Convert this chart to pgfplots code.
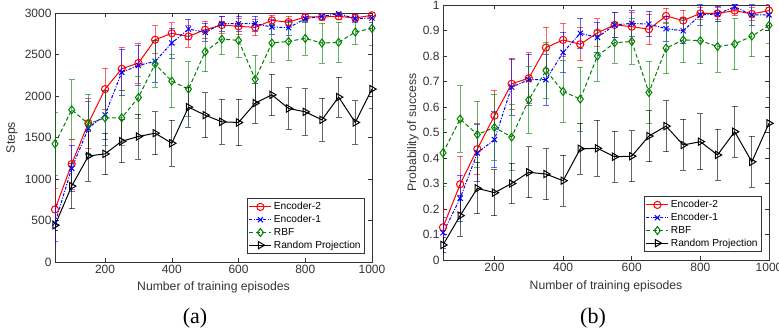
\documentclass[border=0pt]{standalone}
\usepackage{pgfplots}
\pgfplotsset{compat=1.18}
\usepackage{pgfplotstable}
\usepackage{fontspec}
\setmainfont{Liberation Sans}
\newfontfamily\capfont{Liberation Serif}

\definecolor{axgray}{gray}{0.2}
\definecolor{dgreen}{rgb}{0,0.5,0}

\pgfplotstableread{
x    e2   e2e  e1   e1e  r    re   p    pe
50   633  250  470  220  1423 380  443  60
100  1180 300  1128 280  1834 360  914  270
150  1673 300  1612 320  1665 360  1277 300
200  2083 250  1773 300  1737 330  1303 250
250  2328 260  2284 280  1737 330  1455 260
300  2397 240  2368 240  1982 250  1512 270
350  2678 170  2417 250  2385 280  1552 260
400  2755 130  2638 180  2179 320  1431 280
450  2718 130  2807 120  2083 330  1866 240
500  2799 100  2767 110  2533 240  1769 270
550  2855 100  2871 90   2686 190  1689 270
600  2839 100  2871 90   2670 200  1681 280
650  2827 100  2871 90   2203 290  1914 240
700  2911 60   2831 90   2638 230  2014 250
750  2891 70   2823 90   2658 230  1850 250
800  2952 40   2932 50   2694 200  1809 280
850  2952 40   2960 40   2638 240  1713 260
900  2960 40   2990 20   2646 240  1987 240
950  2940 40   2932 50   2771 150  1681 260
1000 2972 30   2940 50   2815 200  2083 230
}\tabA

\pgfplotstableread{
x    e2    e2e   e1    e1e   r     re    p     pe
50   0.128 0.07  0.107 0.06  0.42  0.13  0.059 0.03
100  0.297 0.11  0.242 0.09  0.553 0.13  0.174 0.08
150  0.435 0.10  0.42  0.11  0.492 0.13  0.281 0.10
200  0.566 0.10  0.472 0.11  0.52  0.13  0.264 0.09
250  0.691 0.10  0.678 0.11  0.482 0.13  0.30  0.08
300  0.713 0.10  0.707 0.10  0.628 0.13  0.344 0.10
350  0.833 0.08  0.707 0.10  0.743 0.11  0.337 0.10
400  0.863 0.065 0.814 0.08  0.661 0.12  0.311 0.10
450  0.846 0.065 0.889 0.06  0.631 0.125 0.436 0.10
500  0.891 0.055 0.873 0.06  0.80  0.10  0.438 0.11
550  0.922 0.05  0.922 0.05  0.852 0.08  0.405 0.10
600  0.915 0.055 0.928 0.05  0.857 0.09  0.407 0.10
650  0.905 0.06  0.925 0.05  0.657 0.12  0.486 0.10
700  0.957 0.03  0.907 0.05  0.831 0.10  0.525 0.10
750  0.939 0.04  0.899 0.05  0.863 0.09  0.451 0.10
800  0.967 0.025 0.961 0.04  0.86  0.09  0.464 0.11
850  0.967 0.025 0.965 0.03  0.837 0.10  0.412 0.10
900  0.978 0.02  0.993 0.01  0.847 0.10  0.503 0.10
950  0.965 0.025 0.961 0.04  0.878 0.08  0.385 0.10
1000 0.978 0.02  0.961 0.04  0.92  0.07  0.536 0.10
}\tabB

\pgfplotsset{
  myaxis/.style={
    scale only axis,
    xmin=50, xmax=1000,
    xtick={200,400,600,800,1000},
    tick align=inside,
    tick pos=both,
    axis line style={axgray, line width=0.6pt},
    every tick/.style={axgray, line width=0.5pt},
    major tick length=4pt,
    tick label style={font=\fontsize{12}{13}\selectfont, text=axgray},
    label style={font=\fontsize{12.2}{13}\selectfont, text=axgray},
    /pgf/number format/assume math mode=true,
    /pgf/number format/1000 sep={},
    legend cell align=left,
    legend style={anchor=south east, draw=axgray, line width=0.7pt,
      font=\fontsize{10.2}{11}\selectfont, fill=white, row sep=0pt,
      inner sep=2pt},
    legend image code/.code={\draw[mark repeat=2,mark phase=2]
      plot coordinates {(0pt,0pt)(11pt,0pt)(22pt,0pt)};},
    error bars/y dir=both,
    error bars/y explicit,
  },
  s2/.style={red, line width=1pt, mark=o, mark size=3.6pt,
    mark options={solid, fill=red!25},
    error bars/error bar style={red, opacity=0.6, line width=0.8pt},
    error bars/error mark options={rotate=90, mark size=3pt, red, opacity=0.6, line width=0.8pt}},
  s1/.style={blue, line width=1pt, dash pattern=on 3pt off 1.5pt on 1pt off 1.5pt, mark=x, mark size=3.6pt,
    mark options={solid},
    error bars/error bar style={blue, opacity=0.6, line width=0.8pt, solid},
    error bars/error mark options={rotate=90, mark size=3pt, blue, opacity=0.6, line width=0.8pt, solid}},
  sr/.style={dgreen, line width=1pt, dash pattern=on 4pt off 2.5pt, mark=diamond, mark size=4pt,
    mark options={solid, fill=dgreen!25},
    error bars/error bar style={dgreen, opacity=0.6, line width=0.8pt, solid},
    error bars/error mark options={rotate=90, mark size=3pt, dgreen, opacity=0.6, line width=0.8pt, solid}},
  sp/.style={black, line width=1pt, mark=triangle, mark size=4.2pt,
    mark options={solid, rotate=-90, fill=black!30},
    error bars/error bar style={black, opacity=0.6, line width=0.8pt},
    error bars/error mark options={rotate=90, mark size=3pt, black, opacity=0.6, line width=0.8pt}},
}

\begin{document}
\begin{tikzpicture}
\useasboundingbox (0pt,0pt) rectangle (779pt,331pt);

\begin{axis}[myaxis,
  at={(55pt,69pt)}, anchor=south west,
  width=317pt, height=249pt,
  ymin=0, ymax=3000, ytick={0,500,1000,1500,2000,2500,3000},
  xlabel={Number of training episodes},
  ylabel={Steps},
  xlabel style={at={(axis description cs:0.5,-0.1)}, anchor=center},
  ylabel style={at={(axis description cs:-0.136,0.5)}, anchor=center},
  legend style={at={(axis description cs:1,0)}, xshift=-7pt, yshift=8pt},
]
\addplot[s2] table[x=x, y=e2, y error=e2e] {\tabA};
\addplot[s1] table[x=x, y=e1, y error=e1e] {\tabA};
\addplot[sr] table[x=x, y=r, y error=re] {\tabA};
\addplot[sp] table[x=x, y=p, y error=pe] {\tabA};
\legend{Encoder-2, Encoder-1, RBF, Random Projection}
\end{axis}

\begin{axis}[myaxis,
  at={(443pt,71pt)}, anchor=south west,
  width=326pt, height=255pt,
  ymin=0, ymax=1, ytick={0,0.1,0.2,0.3,0.4,0.5,0.6,0.7,0.8,0.9,1},
  yticklabels={0,0.1,0.2,0.3,0.4,0.5,0.6,0.7,0.8,0.9,1},
  xlabel={Number of training episodes},
  ylabel={Probability of success},
  xlabel style={at={(axis description cs:0.5,-0.105)}, anchor=center},
  ylabel style={at={(axis description cs:-0.092,0.5)}, anchor=center},
  legend style={at={(axis description cs:1,0)}, xshift=-7pt, yshift=8pt},
]
\addplot[s2] table[x=x, y=e2, y error=e2e] {\tabB};
\addplot[s1] table[x=x, y=e1, y error=e1e] {\tabB};
\addplot[sr] table[x=x, y=r, y error=re] {\tabB};
\addplot[sp] table[x=x, y=p, y error=pe] {\tabB};
\legend{Encoder-2, Encoder-1, RBF, Random Projection}
\end{axis}

\node[font=\capfont\fontsize{22}{23}\selectfont] at (195pt,13pt) {(a)};
\node[font=\capfont\fontsize{22}{23}\selectfont] at (593pt,13pt) {(b)};
\end{tikzpicture}
\end{document}
